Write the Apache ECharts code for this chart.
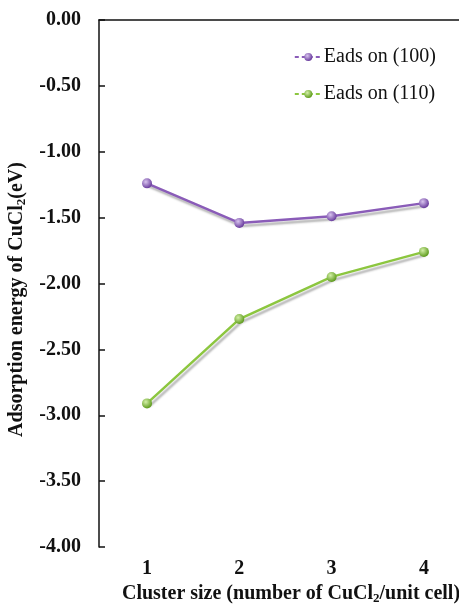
<!DOCTYPE html>
<html>
<head>
<meta charset="utf-8">
<script src="https://cdn.jsdelivr.net/npm/echarts@6/dist/echarts.min.js"></script>
<style>
  html, body { margin: 0; padding: 0; background: #fff; }
  #chart { width: 459px; height: 604px; }
</style>
</head>
<body>
<div id="chart"></div>
<script>
// Cluster sizes (number of CuCl2 per unit cell)
const clusterSizes = [1, 2, 3, 4];
// Adsorption energies (eV)
const eads100 = [-1.24, -1.54, -1.49, -1.39];
const eads110 = [-2.91, -2.27, -1.95, -1.76];
const seriesNames = ['Eads on (100)', 'Eads on (110)'];

const serif = 'Liberation Serif';

function sphere(light, dark) {
  return {
    type: 'radial', x: 0.38, y: 0.35, r: 0.65,
    colorStops: [{ offset: 0, color: light }, { offset: 1, color: dark }]
  };
}

function pairs(xs, ys) {
  return xs.map((x, i) => [x, ys[i]]);
}

const titleRich = {
  b: { fontFamily: serif, fontSize: 20, fontWeight: 'bold', color: '#111' },
  s: { fontFamily: serif, fontSize: 13, fontWeight: 'bold', color: '#111', verticalAlign: 'bottom', padding: [9, 0, 0, 0] }
};

const chart = echarts.init(document.getElementById('chart'));
chart.setOption({
  backgroundColor: '#fff',
  animation: false,
  grid: { left: 99, right: 0, top: 20, bottom: 57, containLabel: false, outerBoundsMode: 'none' },
  legend: {
    right: 18, top: 42,
    orient: 'vertical',
    itemWidth: 27, itemHeight: 10, itemGap: 17,
    lineStyle: { type: [4, 3] },
    textStyle: { fontFamily: serif, fontSize: 20, color: '#111', padding: [0, 0, 0, -3] },
    data: seriesNames
  },
  xAxis: [{
    type: 'value', position: 'bottom', min: 0.48, max: 4.38,
    splitLine: { show: false },
    axisLine: { show: false },
    axisTick: { show: false },
    axisLabel: {
      customValues: clusterSizes, margin: 12,
      fontFamily: serif, fontSize: 20, fontWeight: 'bold', color: '#111'
    },
    name: '{b|Cluster size (number of CuCl}{s|2}{b|/unit cell)}',
    nameLocation: 'middle', nameGap: 35,
    nameTextStyle: { padding: [0, 0, 0, 24], rich: titleRich }
  }, {
    type: 'value', position: 'top', min: 0.48, max: 4.38,
    splitLine: { show: false },
    axisLine: { show: true, onZero: false, lineStyle: { color: '#111', width: 1.5 } },
    axisTick: { show: false },
    axisLabel: { show: false }
  }],
  yAxis: {
    type: 'value', min: -4, max: 0, interval: 0.5,
    splitLine: { show: false },
    axisLine: { show: true, onZero: false, lineStyle: { color: '#111', width: 1.5 } },
    axisTick: { show: true, inside: true, length: 6, lineStyle: { color: '#111', width: 1.5 } },
    axisLabel: {
      margin: 18, fontFamily: serif, fontSize: 20, fontWeight: 'bold', color: '#111',
      formatter: v => v.toFixed(2)
    },
    name: '{b|Adsorption energy of CuCl}{s|2}{b|(eV)}',
    nameLocation: 'middle', nameGap: 71, nameRotate: 90,
    nameTextStyle: { padding: [0, 32, 0, 0], rich: titleRich }
  },
  series: [{
    name: seriesNames[0], type: 'line', xAxisIndex: 0,
    data: pairs(clusterSizes, eads100),
    symbol: 'circle', symbolSize: 10,
    lineStyle: { color: '#8a5cb8', width: 2.5, shadowColor: 'rgba(0,0,0,0.3)', shadowBlur: 2, shadowOffsetX: 2, shadowOffsetY: 3 },
    itemStyle: { color: sphere('#d8c4ee', '#6a3d9e') }
  }, {
    name: seriesNames[1], type: 'line', xAxisIndex: 0,
    data: pairs(clusterSizes, eads110),
    symbol: 'circle', symbolSize: 10,
    lineStyle: { color: '#8cc63f', width: 2.5, shadowColor: 'rgba(0,0,0,0.3)', shadowBlur: 2, shadowOffsetX: 2, shadowOffsetY: 3 },
    itemStyle: { color: sphere('#d4f0a8', '#5f9c1e') }
  }]
});
</script>
</body>
</html>
